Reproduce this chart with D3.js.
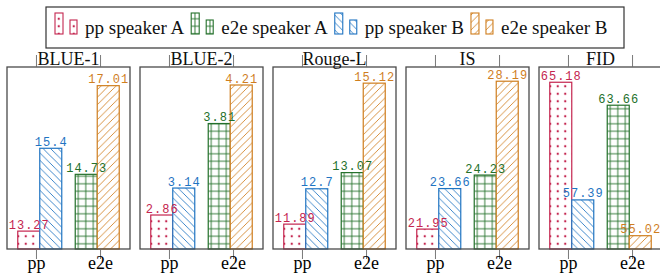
<!DOCTYPE html>
<html>
<head>
<meta charset="utf-8">
<script src="https://cdn.jsdelivr.net/npm/d3@7"></script>
<style>
  body { margin: 0; background: #fff; }
  svg { display: block; }
</style>
</head>
<body>
<div id="chart"></div>
<script>
// values
const metrics = ["BLUE-1", "BLUE-2", "Rouge-L", "IS", "FID"]
const groups = ["pp", "e2e"]
const ppSpeakerA = [13.27, 2.86, 11.89, 21.95, 65.18]
const ppSpeakerB = [15.4, 3.14, 12.7, 23.66, 57.39]
const e2eSpeakerA = [14.73, 3.81, 13.07, 24.23, 63.66]
const e2eSpeakerB = [17.01, 4.21, 15.12, 28.19, 55.02]
// axis limits of every panel (pgfplots picked them, not zero based)
const yMin = [12.81, 2.507, 11.32, 21.11, 54.14]
const yMax = [17.49, 4.397, 15.49, 28.79, 66.19]

const series = [
  {name: "pp speaker A", group: "pp", slot: "A", values: ppSpeakerA, color: "#c4254f", pattern: "dots"},
  {name: "e2e speaker A", group: "e2e", slot: "A", values: e2eSpeakerA, color: "#23702a", pattern: "grid"},
  {name: "pp speaker B", group: "pp", slot: "B", values: ppSpeakerB, color: "#1f74c2", pattern: "nwlines"},
  {name: "e2e speaker B", group: "e2e", slot: "B", values: e2eSpeakerB, color: "#cf7e1e", pattern: "nelines"},
]

const width = 660, height = 276
const panel = {left: 7, step: 133, width: 123, top: 67, bottom: 249}

const svg = d3.select("#chart").append("svg")
  .attr("width", width)
  .attr("height", height)

// fill patterns
const defs = svg.append("defs")
const tile = 7.5
const makePattern = (id, draw) => {
  const p = defs.append("pattern")
    .attr("id", id)
    .attr("patternUnits", "userSpaceOnUse")
    .attr("width", tile)
    .attr("height", tile)
  p.append("rect").attr("width", tile).attr("height", tile).attr("fill", "#fff")
  draw(p)
}
const colorOf = p => series.find(s => s.pattern == p).color

makePattern("dots", p => p.append("circle")
  .attr("cx", tile / 2).attr("cy", tile / 2).attr("r", 1.15)
  .attr("fill", colorOf("dots")))
makePattern("grid", p => p.append("path")
  .attr("d", `M${tile / 2},0V${tile}M0,${tile / 2}H${tile}`)
  .attr("stroke", colorOf("grid")).attr("stroke-width", 0.9).attr("fill", "none"))
makePattern("nwlines", p => p.append("path")
  .attr("d", `M-1,-1L${tile + 1},${tile + 1}M-1,${tile - 1}L1,${tile + 1}M${tile - 1},-1L${tile + 1},1`)
  .attr("stroke", colorOf("nwlines")).attr("stroke-width", 0.85).attr("fill", "none"))
makePattern("nelines", p => p.append("path")
  .attr("d", `M-1,${tile + 1}L${tile + 1},-1M-1,1L1,-1M${tile - 1},${tile + 1}L${tile + 1},${tile - 1}`)
  .attr("stroke", colorOf("nelines")).attr("stroke-width", 0.85).attr("fill", "none"))

// scales shared by all panels
const barX = d3.scalePoint().domain(groups).range([0, panel.width]).padding(0.57)
const tickX = d3.scalePoint().domain(groups).range([0, panel.width]).padding(0.46)
const slotX = d3.scaleBand().domain(["A", "B"]).range([-22, 22]).padding(0)

metrics.forEach((metric, i) => {
  const g = svg.append("g")
    .attr("transform", `translate(${panel.left + i * panel.step},0)`)

  const y = d3.scaleLinear()
    .domain([yMin[i], yMax[i]])
    .range([panel.bottom, panel.top])

  const rows = series.map(s => ({...s, value: s.values[i]}))

  g.selectAll("rect.bar")
    .data(rows)
    .join("rect")
      .attr("class", "bar")
      .attr("x", d => barX(d.group) + slotX(d.slot))
      .attr("width", slotX.bandwidth())
      .attr("y", d => y(d.value))
      .attr("height", d => y(yMin[i]) - y(d.value))
      .attr("fill", d => `url(#${d.pattern})`)
      .attr("stroke", d => d.color)
      .attr("stroke-width", 1.2)

  g.selectAll("text.value")
    .data(rows)
    .join("text")
      .attr("class", "value")
      .attr("x", d => barX(d.group) + slotX(d.slot) + slotX.bandwidth() / 2 + 0.5)
      .attr("y", d => y(d.value) - 2.5)
      .attr("text-anchor", "middle")
      .attr("font-family", "'Liberation Mono', monospace")
      .attr("font-size", 12)
      .attr("letter-spacing", 1)
      .attr("fill", d => d.color)
      .text(d => String(d.value))

  // frame
  g.append("rect")
    .attr("x", 0)
    .attr("y", panel.top)
    .attr("width", panel.width)
    .attr("height", panel.bottom - panel.top)
    .attr("fill", "none")
    .attr("stroke", "#4a4a4a")
    .attr("stroke-width", 1.3)

  // ticks on top and bottom
  const ticks = g.append("g").attr("stroke", "#6a6a6a").attr("stroke-width", 0.9)
  ticks.selectAll("line.top")
    .data(groups)
    .join("line")
      .attr("class", "top")
      .attr("x1", d => tickX(d)).attr("x2", d => tickX(d))
      .attr("y1", panel.top).attr("y2", panel.top - 12)
  ticks.selectAll("line.bottom")
    .data(groups)
    .join("line")
      .attr("class", "bottom")
      .attr("x1", d => tickX(d)).attr("x2", d => tickX(d))
      .attr("y1", panel.bottom).attr("y2", panel.bottom + 10)

  g.selectAll("text.tick")
    .data(groups)
    .join("text")
      .attr("class", "tick")
      .attr("x", d => tickX(d))
      .attr("y", 269)
      .attr("text-anchor", "middle")
      .attr("font-family", "'Liberation Serif', serif")
      .attr("font-size", 18)
      .text(d => d)

  g.append("text")
    .attr("x", panel.width / 2)
    .attr("y", 65)
    .attr("text-anchor", "middle")
    .attr("font-family", "'Liberation Serif', serif")
    .attr("font-size", 18)
    .attr("fill", "#111")
    .text(metric)
})

// legend
const legend = svg.append("g")
legend.append("rect")
  .attr("x", 46).attr("y", 7)
  .attr("width", 578).attr("height", 41)
  .attr("fill", "#fff")
  .attr("stroke", "#333")
  .attr("stroke-width", 1.2)

let x0 = 55
series.forEach(s => {
  const e = legend.append("g").attr("transform", `translate(${x0},0)`)
  e.append("rect")
    .attr("x", 0).attr("y", 13).attr("width", 8).attr("height", 21)
    .attr("fill", `url(#${s.pattern})`).attr("stroke", s.color).attr("stroke-width", 1.1)
  e.append("rect")
    .attr("x", 15).attr("y", 20).attr("width", 7).attr("height", 14)
    .attr("fill", `url(#${s.pattern})`).attr("stroke", s.color).attr("stroke-width", 1.1)
  const t = e.append("text")
    .attr("x", 30)
    .attr("y", 33.5)
    .attr("font-family", "'Liberation Serif', serif")
    .attr("font-size", 19)
    .attr("fill", "#111")
    .text(s.name)
  x0 += 30 + t.node().getComputedTextLength() + 7
})
</script>
</body>
</html>
